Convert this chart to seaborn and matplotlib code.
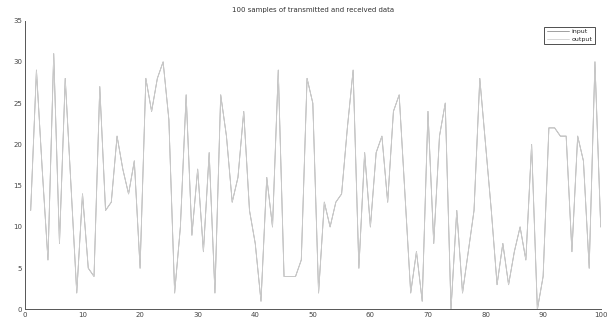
import numpy as np
import pandas as pd
import matplotlib
matplotlib.use("Agg")
import matplotlib.pyplot as plt
import seaborn as sns

samples = list(range(1, 101))
values = [12, 29, 17, 6, 31, 8, 28, 15, 2, 14, 5, 4, 27, 12, 13, 21, 17, 14, 18, 5,
          28, 24, 28, 30, 23, 2, 10, 26, 9, 17, 7, 19, 2, 26, 21, 13, 16, 24, 12, 8,
          1, 16, 10, 29, 4, 4, 4, 6, 28, 25, 2, 13, 10, 13, 14, 22, 29, 5, 19, 10,
          19, 21, 13, 24, 26, 14, 2, 7, 1, 24, 8, 21, 25, 0, 12, 2, 7, 12, 28, 20,
          12, 3, 8, 3, 7, 10, 6, 20, 0, 4, 22, 22, 21, 21, 7, 21, 18, 5, 30, 10]
input_data = values
output_data = values
series_names = ["input", "output"]
title = "100 samples of transmitted and received data"
x_ticks = list(range(0, 101, 10))
y_ticks = list(range(0, 36, 5))

df = pd.DataFrame({
    "sample": samples * 2,
    "value": input_data + output_data,
    "series": ["input"] * len(samples) + ["output"] * len(samples),
})

sns.set_style("white")
plt.rcParams["font.family"] = ["DejaVu Sans"]

fig = plt.figure(figsize=(6.08, 3.22), dpi=100)
ax = fig.add_axes([0.041, 0.039, 0.947, 0.897])

sns.lineplot(data=df, x="sample", y="value", hue="series",
             palette={"input": "#909090", "output": "#d0d0d0"},
             linewidth=0.6, ax=ax, legend=True, estimator=None)

ax.set_xlim(0, 100)
ax.set_ylim(0, 35)
ax.set_xticks(x_ticks)
ax.set_yticks(y_ticks)
ax.set_xlabel("")
ax.set_ylabel("")
ax.tick_params(direction="in", length=3, width=0.6, labelsize=5, colors="#444444", pad=2)
for side in ["top", "right"]:
    ax.spines[side].set_visible(False)
for side in ["left", "bottom"]:
    ax.spines[side].set_color("#555555")
    ax.spines[side].set_linewidth(0.7)

ax.set_title(title, fontsize=5, color="#333333", pad=6)

leg = ax.legend(loc="upper right", bbox_to_anchor=(0.995, 0.99), fontsize=4.5,
                frameon=True, fancybox=False, handlelength=3.5, borderpad=0.4,
                labelspacing=0.3, handletextpad=0.4)
leg.get_frame().set_edgecolor("#222222")
leg.get_frame().set_linewidth(0.7)

fig.savefig("out.png", dpi=100)
